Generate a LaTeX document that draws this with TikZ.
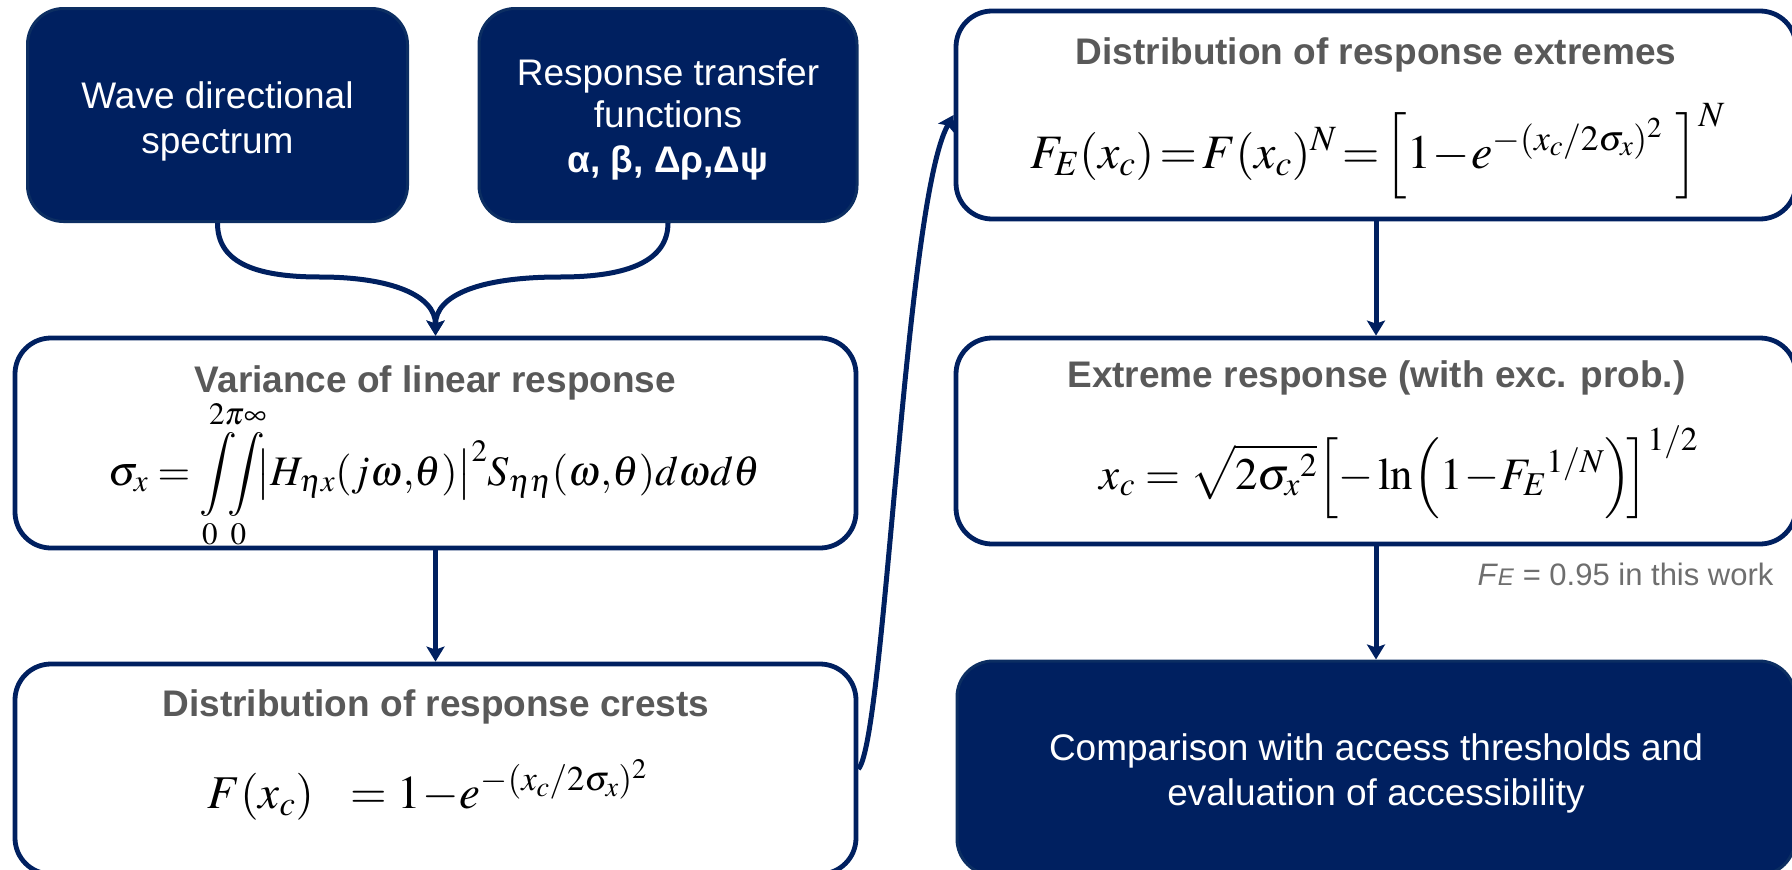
\documentclass[tikz,border=0pt]{standalone}
\usepackage{mathptmx}
\usepackage[no-math]{fontspec}
\setmainfont{Liberation Sans}
\usetikzlibrary{arrows.meta}
\definecolor{navy}{RGB}{0,32,96}
\definecolor{navyedge}{RGB}{12,46,98}
\definecolor{headgray}{RGB}{89,89,89}
\definecolor{notegray}{RGB}{110,110,110}

\begin{document}
\begin{tikzpicture}[x=1pt,y=-1pt,
  darkbox/.style={rounded corners=36pt, fill=navy, draw=navyedge, line width=3pt, inner sep=0pt},
  darktext/.style={text=white, align=center, font=\fontsize{37}{#1}\selectfont},
  darktext/.default=45,
  whitebox/.style={rounded corners=36pt, draw=navy, line width=4.8pt, fill=white, inner sep=0pt},
  head/.style={anchor=base, text=headgray, font=\fontsize{37}{44}\selectfont\bfseries},
  eqn/.style={anchor=base, font=\fontsize{#1}{60}\selectfont},
  link/.style={draw=navy, line width=5pt, -{Stealth[length=15pt,width=18pt,inset=3pt]}}]

\useasboundingbox (0,0) rectangle (1792,870);

% left column
\node[darkbox, minimum width=380pt, minimum height=213pt] (wave) at (217.5,115) {};
\node[darktext] (wavetext) at ([yshift=-6pt]wave.center) {Wave directional\\spectrum};
\node[darkbox, minimum width=378pt, minimum height=213pt] (rtf) at (668,115) {};
\node[darktext=42] (rtftext) at ([yshift=-4pt]rtf.center)
  {Response transfer\\functions\\[3pt]\textbf{α, β, Δρ,Δψ}};

\node[whitebox, minimum width=841pt, minimum height=210pt] (var) at (435.5,443) {};
\node[head] (varhead) at (435.5,392) {Variance of linear response};
\node[eqn=42] (vareq) at (434.5,485)
  {$\displaystyle\sigma_x=\int\limits_0^{2\pi}\!\!\!\int\limits_0^{\infty}\!\!\bigl|H_{\eta x}(j\omega{,}\theta)\bigr|^2S_{\eta\eta}(\omega{,}\theta)d\omega d\theta$};

\node[whitebox, minimum width=841pt, minimum height=210pt] (crest) at (435.5,769) {};
\node[head] (cresthead) at (436,716) {Distribution of response crests};
\node[eqn=47] (cresteq) at (427.5,808) {$F(x_c)\ \ =1\!-\!e^{-(x_c/2\sigma_x)^2}$};

% right column
\node[whitebox, minimum width=840pt, minimum height=208pt] (ext) at (1376,115) {};
\node[head] (exthead) at (1376,64) {Distribution of response extremes};
\node[eqn=48] (exteq) at (1377.5,168)
  {$F_E(x_c)\!=\!F(x_c)^N\!=\!\left[1\!-\!e^{-(x_c/2\sigma_x)^2}\ \right]^N$};

\node[whitebox, minimum width=840pt, minimum height=206pt] (xresp) at (1376,441) {};
\node[head] (xresphead) at (1376.5,387) {Extreme response (with exc. prob.)};
\node[eqn=45] (xrespeq) at (1399,489)
  {$x_c=\sqrt{2\sigma_x{}^2}\!\left[-\ln\!\left(1\!-\!F_E{}^{1/N}\right)\!\right]^{1/2}$};

\node[anchor=base east, text=notegray, font=\fontsize{31}{36}\selectfont] (note) at (1777,585)
  {\textit{F}{\fontsize{24}{28}\selectfont\textit{E}} = 0.95 in this work};

\node[darkbox, minimum width=838pt, minimum height=214pt] (comp) at (1376,768) {};
\node[darktext] (comptext) at ([yshift=-5pt]comp.center)
  {Comparison with access thresholds and\\evaluation of accessibility};

% connectors
\draw[link] (wave.south) .. controls (217.5,260) and (250,277) .. (320,277)
  .. controls (390,277) and (435.5,295) .. (var.north);
\draw[link] (rtf.south) .. controls (668,260) and (630,277) .. (560,277)
  .. controls (480,277) and (435.5,295) .. (var.north);
\draw[link] (var) -- (crest);
\draw[link] (crest.east) .. controls (885,740) and (905,200) .. (ext.west);
\draw[link] (ext) -- (xresp);
\draw[link] (xresp) -- (comp);

\end{tikzpicture}
\end{document}
